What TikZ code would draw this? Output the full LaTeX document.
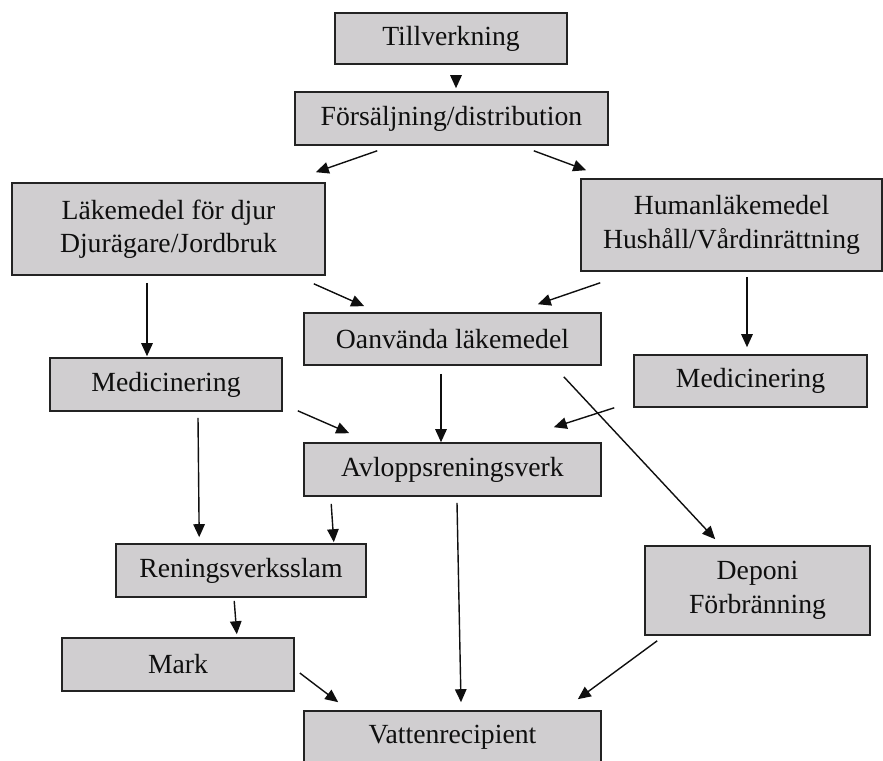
\documentclass[tikz,border=0pt]{standalone}
\usepackage{fontspec}
\setmainfont{Liberation Serif}
\usetikzlibrary{arrows.meta}
\definecolor{boxfill}{RGB}{208,206,208}
\definecolor{boxline}{RGB}{35,35,35}
\definecolor{inkc}{RGB}{15,15,15}
\tikzset{
  stage/.style={draw=boxline, line width=1.6pt, fill=boxfill, inner sep=0pt,
    align=center, text=inkc,
    font=\fontsize{27.7}{33.5}\selectfont},
  flow/.style={draw=inkc, line width=1.4pt,
    -{Triangle[length=13pt,width=11.5pt]}},
}
\begin{document}
\begin{tikzpicture}[x=1pt,y=-1pt]
\useasboundingbox (0,0) rectangle (883,760);
\clip (0,0) rectangle (883,760);

% boxes
\node[stage, minimum width=232pt, minimum height=51pt] (T) at (451,38.5) {Tillverkning};
\node[stage, minimum width=313pt, minimum height=53pt] (F) at (451.5,118.5) {Försäljning/distribution};
\node[stage, minimum width=313pt, minimum height=92pt] (L) at (168.5,229) {Läkemedel för djur\\Djurägare/Jordbruk};
\node[stage, minimum width=301pt, minimum height=92pt] (H) at (731.5,225) {Humanläkemedel\\Hushåll/Vårdinrättning};
\node[stage, minimum width=297pt, minimum height=52pt] (O) at (452.5,339) {Oanvända läkemedel};
\node[stage, minimum width=232pt, minimum height=53pt] (ML) at (166,384.5) {Medicinering};
\node[stage, minimum width=233pt, minimum height=52pt] (MR) at (750.5,381) {Medicinering};
\node[stage, minimum width=297pt, minimum height=53pt] (A) at (452.5,469.5) {Avloppsreningsverk};
\node[stage, minimum width=250pt, minimum height=53pt] (R) at (241,570.5) {Reningsverksslam};
\node[stage, minimum width=225pt, minimum height=89pt] (D) at (757.5,590.5) {Deponi\\Förbränning};
\node[stage, minimum width=232pt, minimum height=53pt] (M) at (178,664.5) {Mark};
\node[stage, minimum width=297pt, minimum height=53pt] (V) at (452.5,737.5) {Vattenrecipient};

% connectors
\draw[flow] ([shift={(5,11)}]T.south) -- ([shift={(4.5,-3)}]F.north);
\draw[flow] ([shift={(83,5)}]F.south west) -- ([shift={(-10,-10)}]L.north east);
\draw[flow] ([shift={(-75,5)}]F.south east) -- ([shift={(6,-8)}]H.north west);
\draw[flow] ([shift={(-21.5,7)}]L.south) -- ([shift={(-19,-1)}]ML.north);
\draw[flow] ([shift={(-12,8)}]L.south east) -- ([shift={(61,-6)}]O.north west);
\draw[flow] ([shift={(20,11)}]H.south west) -- ([shift={(-64,-8)}]O.north east);
\draw[flow] ([shift={(15.5,5)}]H.south) -- ([shift={(-3.5,-7)}]MR.north);
\draw[flow] ([shift={(-11.5,8)}]O.south) -- ([shift={(-11.5,0)}]A.north);
\draw[flow] ([shift={(15,-1)}]ML.south east) -- ([shift={(46,-9)}]A.north west);
\draw[flow] ([shift={(-19,0)}]MR.south west) -- ([shift={(-48,-15)}]A.north east);
\draw[flow] ([shift={(-38,11)}]O.south east) -- ([shift={(71,-6)}]D.north west);
\draw[flow] ([shift={(32,6)}]ML.south) -- ([shift={(84,-6)}]R.north west);
\draw[flow] ([shift={(28,7)}]A.south west) -- ([shift={(-33,-1)}]R.north east);
\draw[flow] ([shift={(4.5,6)}]A.south) -- ([shift={(8.5,-8)}]V.north);
\draw[flow] ([shift={(119,3)}]R.south west) -- ([shift={(-58,-3)}]M.north east);
\draw[flow] ([shift={(5,8.5)}]M.east) -- ([shift={(35,-8)}]V.north west);
\draw[flow] ([shift={(13,5)}]D.south west) -- ([shift={(-24,-11)}]V.north east);
\end{tikzpicture}
\end{document}
